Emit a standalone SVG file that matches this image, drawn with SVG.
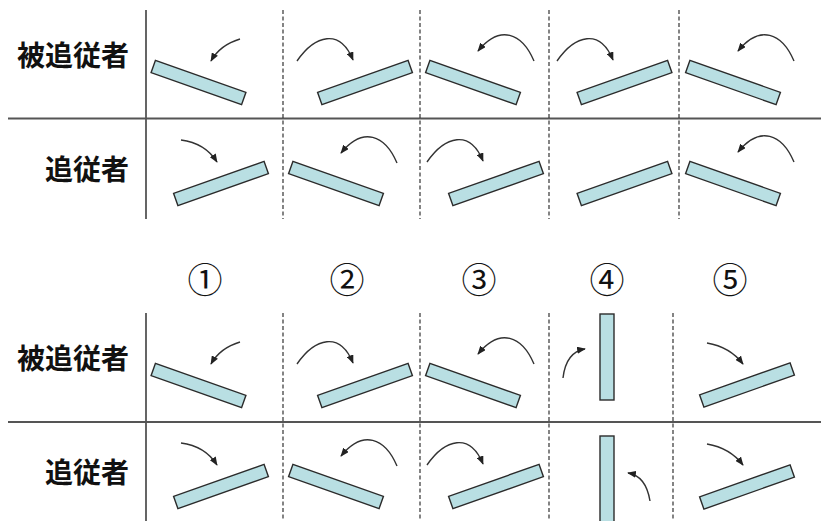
<svg xmlns="http://www.w3.org/2000/svg" width="821" height="521" viewBox="0 0 821 521">
<defs>
<style>
.grid{stroke:#555;stroke-width:1.8;fill:none}
.dash{stroke:#333;stroke-width:1.2;stroke-dasharray:4 2.5;fill:none}
.bar{fill:#b9dfe3;stroke:#2b2b2b;stroke-width:1.4}
.arr{fill:none;stroke:#333;stroke-width:1.4;marker-end:url(#ah)}
.lbl{font-family:"Noto Sans CJK JP","Noto Sans CJK SC",sans-serif;font-weight:bold;font-size:28px;fill:#111;text-anchor:end}
.num{font-family:"Noto Sans CJK JP","DejaVu Sans",sans-serif;font-size:35px;fill:#111;text-anchor:middle}
</style>
<marker id="ah" viewBox="0 0 10 8" refX="9" refY="4" markerWidth="9" markerHeight="7" markerUnits="userSpaceOnUse" orient="auto">
<path d="M0,0 L10,4 L0,8 Z" fill="#222"/>
</marker>
<rect id="bd" class="bar" x="-48" y="-6.5" width="96" height="13" transform="rotate(19.5)"/>
<rect id="bu" class="bar" x="-48" y="-6.5" width="96" height="13" transform="rotate(-19.5)"/>
</defs>
<rect width="821" height="521" fill="#fff"/>

<g id="grid-top">
<line class="grid" x1="8" y1="118.5" x2="821" y2="118.5"/>
<line class="grid" x1="146" y1="10" x2="146" y2="219"/>
<line class="dash" x1="283" y1="10" x2="283" y2="219"/>
<line class="dash" x1="420" y1="10" x2="420" y2="219"/>
<line class="dash" x1="549" y1="10" x2="549" y2="219"/>
<line class="dash" x1="679" y1="10" x2="679" y2="219"/>
</g>
<g id="grid-bottom">
<line class="grid" x1="8" y1="422" x2="821" y2="422"/>
<line class="grid" x1="146" y1="313" x2="146" y2="521"/>
<line class="dash" x1="283" y1="313" x2="283" y2="521"/>
<line class="dash" x1="420" y1="313" x2="420" y2="521"/>
<line class="dash" x1="549" y1="313" x2="549" y2="521"/>
<line class="dash" x1="673" y1="313" x2="673" y2="521"/>
</g>

<g id="labels">
<text class="lbl" x="129" y="66">被追従者</text>
<text class="lbl" x="129" y="180">追従者</text>
<text class="lbl" x="129" y="369">被追従者</text>
<text class="lbl" x="129" y="483">追従者</text>
</g>

<g id="numbers">
<text class="num" x="205" y="292.5">①</text>
<text class="num" x="347" y="292.5">②</text>
<text class="num" x="479" y="292.5">③</text>
<text class="num" x="607" y="292.5">④</text>
<text class="num" x="730" y="292.5">⑤</text>
</g>

<g id="top-bars">
<g id="t1a"><use href="#bd" transform="translate(198.5,82.5)"/></g>
<g id="t1b"><use href="#bu" transform="translate(221,183.5)"/></g>
<g id="t2a"><use href="#bu" transform="translate(365,82.5)"/></g>
<g id="t2b"><use href="#bd" transform="translate(336,183.5)"/></g>
<g id="t3a"><use href="#bd" transform="translate(473,82.5)"/></g>
<g id="t3b"><use href="#bu" transform="translate(496,183.5)"/></g>
<g id="t4a"><use href="#bu" transform="translate(624.5,82.5)"/></g>
<g id="t4b"><use href="#bu" transform="translate(624.5,183.5)"/></g>
<g id="t5a"><use href="#bd" transform="translate(733,82.5)"/></g>
<g id="t5b"><use href="#bd" transform="translate(733,183.5)"/></g>
</g>

<g id="bottom-bars">
<g id="b1a"><use href="#bd" transform="translate(198.5,385.5)"/></g>
<g id="b1b"><use href="#bu" transform="translate(221,486.5)"/></g>
<g id="b2a"><use href="#bu" transform="translate(365,385.5)"/></g>
<g id="b2b"><use href="#bd" transform="translate(336,486.5)"/></g>
<g id="b3a"><use href="#bd" transform="translate(473,385.5)"/></g>
<g id="b3b"><use href="#bu" transform="translate(496,486.5)"/></g>
<g id="b4a"><rect class="bar" x="600" y="314" width="14" height="86"/></g>
<g id="b4b"><rect class="bar" x="600" y="436" width="14" height="90"/></g>
<g id="b5a"><use href="#bu" transform="translate(747,385)"/></g>
<g id="b5b"><use href="#bu" transform="translate(747,487)"/></g>
</g>

<g id="connectors">
<path class="arr" d="M240,39 Q220,45 211,61"/>
<path class="arr" d="M181,140 Q205,143 217,162"/>
<path class="arr" d="M297,61 C315,35 340,28 353,60"/>
<path class="arr" d="M397,163 C385,135 363,126 341,153"/>
<path class="arr" d="M534,61 C522,33 500,24 478,51"/>
<path class="arr" d="M427,162 C445,136 470,129 483,161"/>
<path class="arr" d="M557,61 C575,35 600,28 613,60"/>
<path class="arr" d="M794,61 C782,33 760,24 738,51"/>
<path class="arr" d="M794,162 C782,134 760,125 738,152"/>
<path class="arr" d="M240,342 Q220,348 211,364"/>
<path class="arr" d="M181,443 Q205,446 217,465"/>
<path class="arr" d="M297,364 C315,338 340,331 353,363"/>
<path class="arr" d="M397,466 C385,438 363,429 341,456"/>
<path class="arr" d="M534,364 C522,336 500,327 478,354"/>
<path class="arr" d="M427,465 C445,439 470,432 483,464"/>
<path class="arr" d="M563,378 Q566,352 585,349"/>
<path class="arr" d="M650,501 Q646,476 628,473"/>
<path class="arr" d="M707,343 Q730,347 743,364"/>
<path class="arr" d="M707,444 Q730,448 743,465"/>
</g>
</svg>
